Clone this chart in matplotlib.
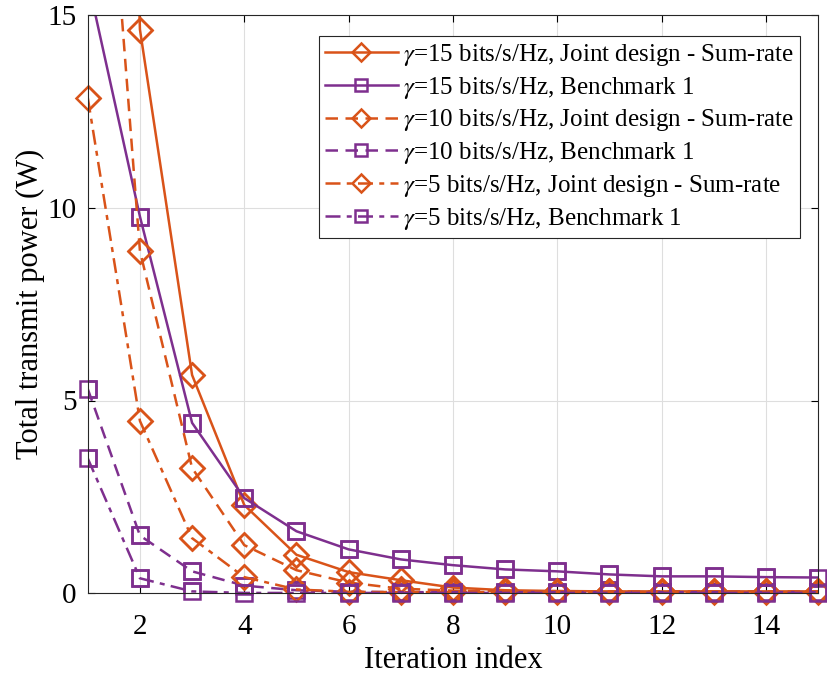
import numpy as np
import matplotlib
matplotlib.use('Agg')
import matplotlib.pyplot as plt

plt.rcParams['font.family'] = ['Liberation Serif', 'DejaVu Serif']
plt.rcParams['mathtext.fontset'] = 'stix'

iters = np.arange(1, 16)

# total transmit power (W) per iteration
joint_15 = [60.0, 14.62, 5.66, 2.29, 1.0, 0.55, 0.34, 0.15, 0.08, 0.06, 0.05, 0.05, 0.05, 0.05, 0.05]
bench_15 = [15.9, 9.77, 4.42, 2.47, 1.61, 1.14, 0.88, 0.73, 0.62, 0.57, 0.49, 0.44, 0.44, 0.42, 0.41]
joint_10 = [26.4, 8.88, 3.25, 1.25, 0.6, 0.28, 0.12, 0.07, 0.05, 0.05, 0.05, 0.05, 0.05, 0.05, 0.05]
bench_10 = [5.3, 1.5, 0.57, 0.2, 0.08, 0.04, 0.03, 0.03, 0.03, 0.03, 0.03, 0.03, 0.03, 0.03, 0.03]
joint_5 = [12.85, 4.47, 1.43, 0.42, 0.1, 0.04, 0.03, 0.03, 0.03, 0.03, 0.03, 0.03, 0.03, 0.03, 0.03]
bench_5 = [3.5, 0.39, 0.05, 0.01, 0.01, 0.01, 0.01, 0.01, 0.01, 0.01, 0.01, 0.01, 0.01, 0.01, 0.01]

labels = [r'$\gamma$=15 bits/s/Hz, Joint design - Sum-rate',
          r'$\gamma$=15 bits/s/Hz, Benchmark 1',
          r'$\gamma$=10 bits/s/Hz, Joint design - Sum-rate',
          r'$\gamma$=10 bits/s/Hz, Benchmark 1',
          r'$\gamma$=5 bits/s/Hz, Joint design - Sum-rate',
          r'$\gamma$=5 bits/s/Hz, Benchmark 1']

orange = '#D95319'
purple = '#7E2F8E'

series = [joint_15, bench_15, joint_10, bench_10, joint_5, bench_5]
colors = [orange, purple, orange, purple, orange, purple]
markers = ['D', 's', 'D', 's', 'D', 's']
styles = ['-', '-', (0, (5, 3)), (0, (5, 3)), (0, (6, 2.5, 2, 2.5)), (0, (6, 2.5, 2, 2.5))]
sizes = [12, 11, 12, 11, 12, 11]

fig = plt.figure(figsize=(8.28, 6.75), dpi=100)
ax = fig.add_axes([0.106, 0.121, 0.882, 0.857])

for y, c, m, ls, ms, lab in zip(series, colors, markers, styles, sizes, labels):
    y = np.array(y)
    ax.plot(iters, y, color=c, linestyle=ls, linewidth=1.8, marker=m,
            markersize=ms, markerfacecolor='none', markeredgewidth=1.8, label=lab)
    inside = y <= 15
    ax.plot(iters[inside], y[inside], linestyle='none', marker=m, markersize=ms,
            markerfacecolor='none', markeredgecolor=c, markeredgewidth=1.8, clip_on=False)

ax.set_xlim(1, 15)
ax.set_ylim(0, 15)
ax.set_xticks([2, 4, 6, 8, 10, 12, 14])
ax.set_yticks([0, 5, 10, 15])
ax.grid(True, color='#dedede', linewidth=0.8)
ax.set_axisbelow(True)
ax.tick_params(direction='in', labelsize=21, top=True, right=True, length=5)
ax.tick_params(axis='x', pad=15)
ax.tick_params(axis='y', pad=8)
for s in ax.spines.values():
    s.set_color('#262626')
    s.set_linewidth(0.8)
ax.set_xlabel('Iteration index', fontsize=22, labelpad=4)
ax.set_ylabel('Total transmit power (W)', fontsize=22, labelpad=2)

leg = ax.legend(loc='upper right', bbox_to_anchor=(0.975, 0.964), fontsize=18,
                handlelength=2.9, borderpad=0.25, labelspacing=0.27, handletextpad=0.2,
                borderaxespad=0, markerscale=0.75, fancybox=False, framealpha=1,
                edgecolor='#262626')
leg.get_frame().set_linewidth(0.8)

fig.savefig('out.png', dpi=100)
